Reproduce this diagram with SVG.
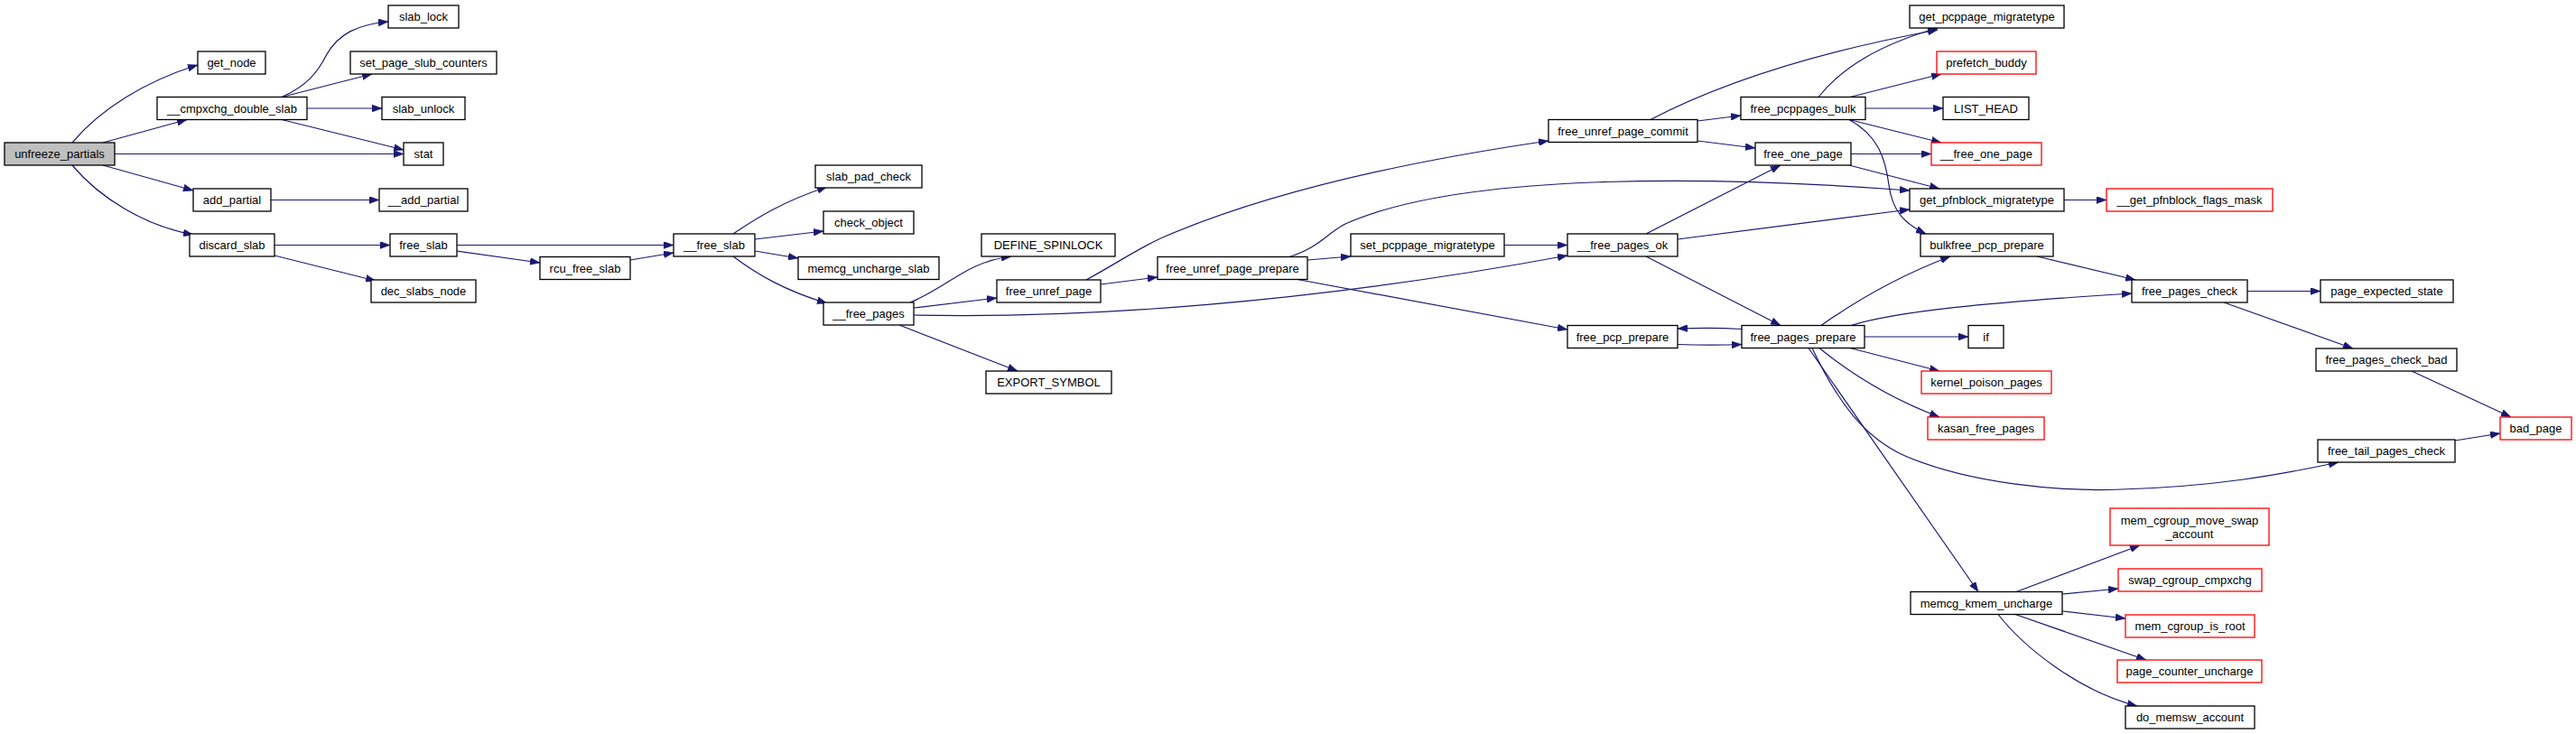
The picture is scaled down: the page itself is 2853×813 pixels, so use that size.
<svg xmlns="http://www.w3.org/2000/svg" width="2853" height="813" viewBox="0 0 2853 813">
<style>
.node rect{fill:#ffffff;stroke:#000000;stroke-width:1.3}
.node.root rect{fill:#bfbfbf}
.node.red rect{stroke:#ff0000}
.node text{font-family:"Liberation Sans",Arial,sans-serif;font-size:13px;text-anchor:middle;fill:#000000}
.edges path{fill:none;stroke:#191970;stroke-width:1.2;marker-end:url(#arr)}
</style>
<defs>
<marker id="arr" viewBox="0 0 11 8" refX="11" refY="4" markerWidth="11" markerHeight="8" markerUnits="userSpaceOnUse" orient="auto">
<path d="M0,0 L11,4 L0,8 z" fill="#191970" stroke="#191970" stroke-width="0.5"/>
</marker>
</defs>
<rect x="0" y="0" width="2853" height="813" fill="#ffffff"/>
<g class="edges" id="edges">
<path d="M80,158 C110,122 160,90 219,72"/>
<path d="M114,158 L207,132.5"/>
<path d="M127,170.5 L447,170.5"/>
<path d="M114,183 L214,211"/>
<path d="M80,183 C110,219 160,250 214,260"/>
<path d="M312,107.5 C340,95 352,80 362,60 C375,38 395,27 430,24"/>
<path d="M312,107.5 L412,82"/>
<path d="M340,120 L423,120"/>
<path d="M312,132.5 L447,166"/>
<path d="M300,221.5 L420,221.5"/>
<path d="M304,271.5 L432,271.5"/>
<path d="M304,283 L416,311"/>
<path d="M506,271.5 L746,271.5"/>
<path d="M506,278 L598,291"/>
<path d="M698,288 L746,280"/>
<path d="M812,259 C840,240 870,222 916,207"/>
<path d="M836,265 L912,256"/>
<path d="M836,278 L884,286"/>
<path d="M812,284 C840,305 870,322 916,336"/>
<path d="M1008,335 C1050,318 1070,290 1120,284"/>
<path d="M1012,341 L1104,330"/>
<path d="M996,360 L1127,411"/>
<path d="M1012,349 C1200,353 1450,336 1736,283"/>
<path d="M1219,315 L1282,307"/>
<path d="M1203,310 C1240,290 1260,275 1290,262 C1400,215 1550,180 1715,156"/>
<path d="M1448,288 L1496,284"/>
<path d="M1428,284.5 C1460,275 1470,258 1490,248 C1620,190 1900,195 2115,211"/>
<path d="M1437,309.5 L1736,365"/>
<path d="M1666,271.5 L1736,271.5"/>
<path d="M1880,134 L1928,128"/>
<path d="M1880,156 L1944,164"/>
<path d="M1828,132.5 C1900,95 2000,60 2146,33"/>
<path d="M2014,107.5 C2040,75 2080,50 2146,31"/>
<path d="M2049,107.5 L2150,82"/>
<path d="M2066,120 L2152,120"/>
<path d="M2048,132.5 L2150,158"/>
<path d="M2048,132.5 C2080,150 2088,175 2092,205 C2096,235 2110,248 2133,259"/>
<path d="M2050,170.5 L2139,170.5"/>
<path d="M2048,183 L2148,209"/>
<path d="M1823,259 L1972,183"/>
<path d="M1858,265 L2115,232"/>
<path d="M1823,284 L1972,360.5"/>
<path d="M1929,364.5 C1905,363 1885,363 1858,364"/>
<path d="M1858,381.5 C1885,382.5 1905,382.5 1929,381.5"/>
<path d="M2017,360.5 C2060,330 2110,303 2160,284"/>
<path d="M2050,360.5 C2100,345 2200,335 2361,325"/>
<path d="M2065,373 L2180,373"/>
<path d="M2049,385.5 L2148,411"/>
<path d="M2015,385.5 C2045,410 2090,440 2148,462"/>
<path d="M2007,385.5 C2035,445 2065,485 2110,505 C2180,535 2280,545 2350,542 C2450,539 2520,527 2590,512"/>
<path d="M2003,385.5 L2191,655.5"/>
<path d="M2286,221.5 L2333,221.5"/>
<path d="M2256,284 L2365,310"/>
<path d="M2489,322.5 L2570,322.5"/>
<path d="M2463,335 L2606,386"/>
<path d="M2671,411 L2781,462"/>
<path d="M2719,488 L2769,480"/>
<path d="M2233,655.5 L2370,604"/>
<path d="M2284,658 L2346,652"/>
<path d="M2284,677 L2354,685"/>
<path d="M2232,680.5 L2377,731"/>
<path d="M2213,680.5 C2240,715 2300,765 2367,782"/>
</g>
<g id="n_unfreeze_partials" class="node root"><rect x="5" y="158" width="122" height="25"/><text x="66" y="175">unfreeze_partials</text></g>
<g id="n_get_node" class="node"><rect x="219" y="57" width="75" height="25"/><text x="256.5" y="74">get_node</text></g>
<g id="n_cmpxchg_double_slab" class="node"><rect x="174" y="107.5" width="166" height="25"/><text x="257" y="124.5">__cmpxchg_double_slab</text></g>
<g id="n_slab_lock" class="node"><rect x="430" y="6" width="78" height="25"/><text x="469" y="23">slab_lock</text></g>
<g id="n_set_page_slub_counters" class="node"><rect x="388" y="57" width="162" height="25"/><text x="469" y="74">set_page_slub_counters</text></g>
<g id="n_slab_unlock" class="node"><rect x="423" y="107.5" width="92" height="25"/><text x="469" y="124.5">slab_unlock</text></g>
<g id="n_stat" class="node"><rect x="447" y="158" width="44" height="25"/><text x="469" y="175">stat</text></g>
<g id="n_add_partial" class="node"><rect x="214" y="209" width="86" height="25"/><text x="257" y="226">add_partial</text></g>
<g id="n___add_partial" class="node"><rect x="420" y="209" width="98" height="25"/><text x="469" y="226">__add_partial</text></g>
<g id="n_discard_slab" class="node"><rect x="210" y="259" width="94" height="25"/><text x="257" y="276">discard_slab</text></g>
<g id="n_free_slab" class="node"><rect x="432" y="259" width="74" height="25"/><text x="469" y="276">free_slab</text></g>
<g id="n_rcu_free_slab" class="node"><rect x="598" y="284.5" width="100" height="25"/><text x="648" y="301.5">rcu_free_slab</text></g>
<g id="n_dec_slabs_node" class="node"><rect x="411" y="310" width="116" height="25"/><text x="469" y="327">dec_slabs_node</text></g>
<g id="n___free_slab" class="node"><rect x="746" y="259" width="90" height="25"/><text x="791" y="276">__free_slab</text></g>
<g id="n_slab_pad_check" class="node"><rect x="903" y="183" width="118" height="25"/><text x="962" y="200">slab_pad_check</text></g>
<g id="n_check_object" class="node"><rect x="912" y="234" width="100" height="25"/><text x="962" y="251">check_object</text></g>
<g id="n_memcg_uncharge_slab" class="node"><rect x="884" y="284.5" width="156" height="25"/><text x="962" y="301.5">memcg_uncharge_slab</text></g>
<g id="n___free_pages" class="node"><rect x="912" y="335" width="100" height="25"/><text x="962" y="352">__free_pages</text></g>
<g id="n_DEFINE_SPINLOCK" class="node"><rect x="1087" y="259" width="148" height="25"/><text x="1161" y="276">DEFINE_SPINLOCK</text></g>
<g id="n_free_unref_page" class="node"><rect x="1104" y="310" width="115" height="25"/><text x="1161.5" y="327">free_unref_page</text></g>
<g id="n_EXPORT_SYMBOL" class="node"><rect x="1092" y="411" width="139" height="25"/><text x="1161.5" y="428">EXPORT_SYMBOL</text></g>
<g id="n_free_unref_page_prepare" class="node"><rect x="1282" y="284.5" width="166" height="25"/><text x="1365" y="301.5">free_unref_page_prepare</text></g>
<g id="n_set_pcppage_migratetype" class="node"><rect x="1496" y="259" width="170" height="25"/><text x="1581" y="276">set_pcppage_migratetype</text></g>
<g id="n___free_pages_ok" class="node"><rect x="1736" y="259" width="122" height="25"/><text x="1797" y="276">__free_pages_ok</text></g>
<g id="n_free_pcp_prepare" class="node"><rect x="1736" y="360.5" width="122" height="25"/><text x="1797" y="377.5">free_pcp_prepare</text></g>
<g id="n_free_unref_page_commit" class="node"><rect x="1715" y="132.5" width="165" height="25"/><text x="1797.5" y="149.5">free_unref_page_commit</text></g>
<g id="n_free_pcppages_bulk" class="node"><rect x="1928" y="107.5" width="138" height="25"/><text x="1997" y="124.5">free_pcppages_bulk</text></g>
<g id="n_free_one_page" class="node"><rect x="1944" y="158" width="106" height="25"/><text x="1997" y="175">free_one_page</text></g>
<g id="n_free_pages_prepare" class="node"><rect x="1929" y="360.5" width="136" height="25"/><text x="1997" y="377.5">free_pages_prepare</text></g>
<g id="n_get_pcppage_migratetype" class="node"><rect x="2115" y="6" width="171" height="25"/><text x="2200.5" y="23">get_pcppage_migratetype</text></g>
<g id="n_prefetch_buddy" class="node red"><rect x="2145" y="57" width="110" height="25"/><text x="2200" y="74">prefetch_buddy</text></g>
<g id="n_LIST_HEAD" class="node"><rect x="2152" y="107.5" width="95" height="25"/><text x="2199.5" y="124.5">LIST_HEAD</text></g>
<g id="n___free_one_page" class="node red"><rect x="2139" y="158" width="122" height="25"/><text x="2200" y="175">__free_one_page</text></g>
<g id="n_get_pfnblock_migratetype" class="node"><rect x="2115" y="209" width="171" height="25"/><text x="2200.5" y="226">get_pfnblock_migratetype</text></g>
<g id="n_bulkfree_pcp_prepare" class="node"><rect x="2127" y="259" width="147" height="25"/><text x="2200.5" y="276">bulkfree_pcp_prepare</text></g>
<g id="n_if" class="node"><rect x="2180" y="360.5" width="39" height="25"/><text x="2199.5" y="377.5">if</text></g>
<g id="n_kernel_poison_pages" class="node red"><rect x="2128" y="411" width="144" height="25"/><text x="2200" y="428">kernel_poison_pages</text></g>
<g id="n_kasan_free_pages" class="node red"><rect x="2135" y="462" width="129" height="25"/><text x="2199.5" y="479">kasan_free_pages</text></g>
<g id="n_memcg_kmem_uncharge" class="node"><rect x="2116" y="655.5" width="168" height="25"/><text x="2200" y="672.5">memcg_kmem_uncharge</text></g>
<g id="n___get_pfnblock_flags_mask" class="node red"><rect x="2333" y="209" width="184" height="25"/><text x="2425" y="226">__get_pfnblock_flags_mask</text></g>
<g id="n_free_pages_check" class="node"><rect x="2361" y="310" width="128" height="25"/><text x="2425" y="327">free_pages_check</text></g>
<g id="n_page_expected_state" class="node"><rect x="2570" y="310" width="147" height="25"/><text x="2643.5" y="327">page_expected_state</text></g>
<g id="n_free_pages_check_bad" class="node"><rect x="2565" y="386" width="156" height="25"/><text x="2643" y="403">free_pages_check_bad</text></g>
<g id="n_bad_page" class="node red"><rect x="2769" y="462" width="79" height="25"/><text x="2808.5" y="479">bad_page</text></g>
<g id="n_free_tail_pages_check" class="node"><rect x="2567" y="487" width="152" height="25"/><text x="2643" y="504">free_tail_pages_check</text></g>
<g id="n_mem_cgroup_move_swap_account" class="node red"><rect x="2337" y="563" width="176" height="41"/><text x="2425" y="580.5">mem_cgroup_move_swap</text><text x="2425" y="595.5">_account</text></g>
<g id="n_swap_cgroup_cmpxchg" class="node red"><rect x="2346" y="630" width="159" height="25"/><text x="2425.5" y="647">swap_cgroup_cmpxchg</text></g>
<g id="n_mem_cgroup_is_root" class="node red"><rect x="2354" y="681" width="143" height="25"/><text x="2425.5" y="698">mem_cgroup_is_root</text></g>
<g id="n_page_counter_uncharge" class="node red"><rect x="2345" y="731" width="160" height="25"/><text x="2425" y="748">page_counter_uncharge</text></g>
<g id="n_do_memsw_account" class="node"><rect x="2354" y="782" width="143" height="25"/><text x="2425.5" y="799">do_memsw_account</text></g>
</svg>
